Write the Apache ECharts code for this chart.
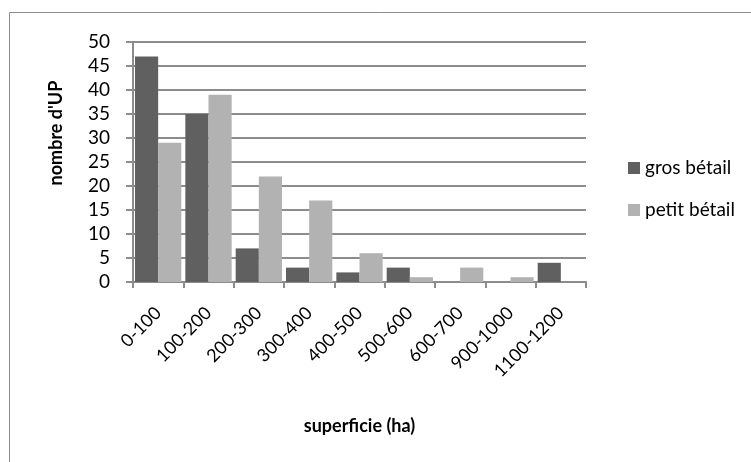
<!DOCTYPE html>
<html>
<head>
<meta charset="utf-8">
<script src="https://cdn.jsdelivr.net/npm/echarts@6/dist/echarts.min.js"></script>
<style>html,body{margin:0;padding:0;background:#fff}#c{width:751px;height:462px}</style>
</head>
<body>
<div id="c"></div>
<script>
const categories = ['0-100','100-200','200-300','300-400','400-500','500-600','600-700','900-1000','1100-1200'];
const grosBetail = [47, 35, 7, 3, 2, 3, 0, 0, 4];
const petitBetail = [29, 39, 22, 17, 6, 1, 3, 1, 0];
const yTicks = {min: 0, max: 50, interval: 5};

const FONT = 'Lato';
const chart = echarts.init(document.getElementById('c'));
chart.setOption({
  animation: false,
  backgroundColor: '#fff',
  textStyle: {fontFamily: FONT},
  graphic: [
    {type: 'rect', shape: {x: 9.5, y: 12.5, width: 900, height: 600}, style: {fill: 'none', stroke: '#8c8c8c', lineWidth: 1}, z: -1},
    {type: 'text', x: 56, y: 133, rotation: Math.PI / 2,
      style: {text: "nombre d'UP", font: 'bold 18px ' + FONT, fill: '#000', align: 'center', verticalAlign: 'middle'}}
  ],
  grid: {left: 133, top: 42, right: 165, bottom: 180, containLabel: false},
  legend: {
    orient: 'vertical', left: 623, top: 153,
    itemWidth: 12, itemHeight: 12, itemGap: 22, icon: 'rect',
    textStyle: {fontSize: 19, color: '#000', fontFamily: FONT, lineHeight: 20},
    data: ['gros bétail', 'petit bétail']
  },
  xAxis: {
    type: 'category', data: categories,
    name: 'superficie (ha)', nameLocation: 'middle', nameGap: 135,
    nameTextStyle: {fontWeight: 'bold', fontSize: 18, color: '#000', fontFamily: FONT},
    axisLine: {lineStyle: {color: '#8c8c8c', width: 2}},
    axisTick: {show: true, alignWithLabel: false, length: 6, lineStyle: {color: '#8c8c8c', width: 2}},
    axisLabel: {rotate: 45, margin: 28, fontSize: 18, color: '#000', interval: 0, fontFamily: FONT},
    splitLine: {show: false}
  },
  yAxis: {
    type: 'value', min: yTicks.min, max: yTicks.max, interval: yTicks.interval,
    axisLine: {show: true, lineStyle: {color: '#8c8c8c', width: 2}},
    axisTick: {show: true, length: 7, lineStyle: {color: '#8c8c8c', width: 2}},
    axisLabel: {margin: 23, fontSize: 19, color: '#000', fontFamily: FONT},
    splitLine: {show: true, lineStyle: {color: '#8c8c8c', width: 2}}
  },
  series: [
    {name: 'gros bétail', type: 'bar', data: grosBetail, barGap: '0%', barCategoryGap: '8%',
      itemStyle: {color: '#606060'}},
    {name: 'petit bétail', type: 'bar', data: petitBetail, barGap: '0%', barCategoryGap: '8%',
      itemStyle: {color: '#b2b2b2'}}
  ]
});
</script>
</body>
</html>
